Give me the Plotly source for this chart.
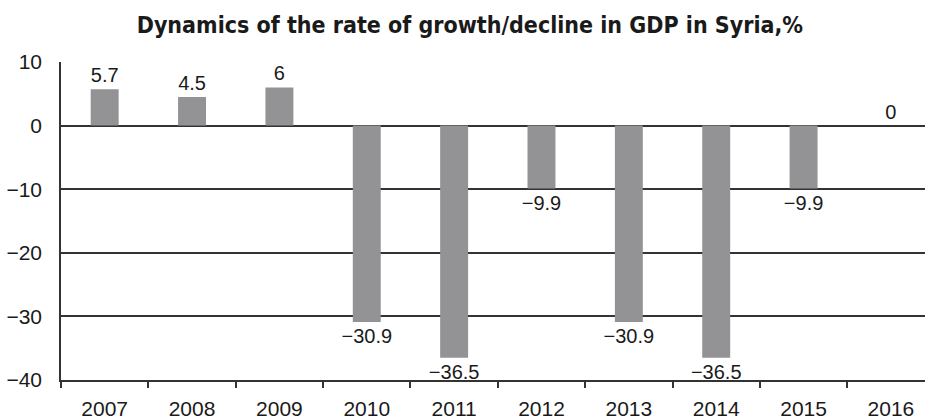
import plotly.graph_objects as go

years = ["2007", "2008", "2009", "2010", "2011", "2012", "2013", "2014", "2015", "2016"]
gdp_change = [5.7, 4.5, 6, -30.9, -36.5, -9.9, -30.9, -36.5, -9.9, 0]
y_ticks = [10, 0, -10, -20, -30, -40]

labels = [f"{v:g}".replace("-", "\u2212") for v in gdp_change]

fig = go.Figure(
    go.Bar(
        x=years,
        y=gdp_change,
        width=0.32,
        marker=dict(color="#939396", line=dict(width=0)),
        text=labels,
        textposition="outside",
        constraintext="none",
        textfont=dict(family="Liberation Sans, Arial, sans-serif", size=20, color="#1a1a1a"),
        cliponaxis=False,
    )
)

fig.update_layout(
    width=925,
    height=419,
    margin=dict(l=61, r=0, t=62, b=39),
    paper_bgcolor="white",
    plot_bgcolor="white",
    showlegend=False,
    font=dict(family="Liberation Sans, Arial, sans-serif", size=21, color="#1a1a1a"),
    title=dict(
        text="<b>Dynamics of the rate of growth/decline in GDP in Syria,%</b>",
        font=dict(family="DejaVu Sans Condensed, DejaVu Sans, sans-serif", size=23, color="#1a1a1a"),
        x=0.508,
        xref="container",
        xanchor="center",
        y=0.94,
        yref="container",
        yanchor="middle",
    ),
)

fig.update_xaxes(
    type="category",
    range=[-0.5, 9.39],
    tickson="boundaries",
    ticks="outside",
    ticklen=6,
    tickwidth=1.5,
    tickcolor="#333333",
    showgrid=False,
    showline=True,
    linecolor="#333333",
    linewidth=1.5,
    ticklabelstandoff=9,
)

fig.update_yaxes(
    range=[-40, 10],
    tickvals=y_ticks,
    showgrid=True,
    gridcolor="#333333",
    gridwidth=1.5,
    zeroline=True,
    zerolinecolor="#333333",
    zerolinewidth=1.5,
    showline=True,
    linecolor="#333333",
    linewidth=1.5,
    ticks="",
    ticklabelstandoff=13,
)

fig.write_html("out.html")
